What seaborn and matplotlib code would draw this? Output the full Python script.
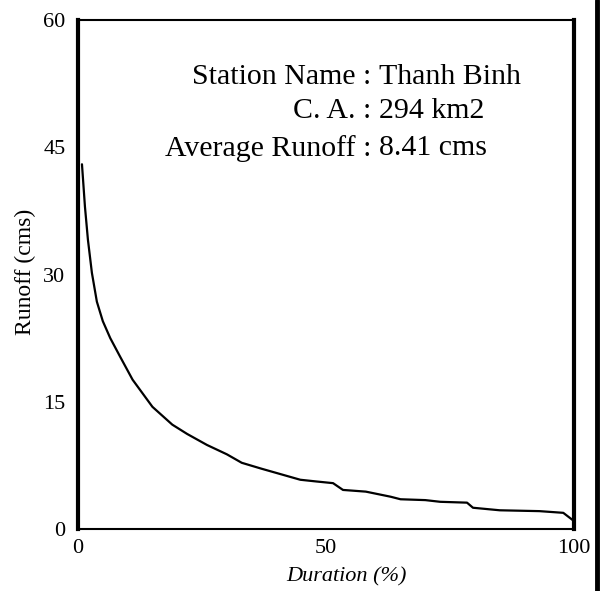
import matplotlib
matplotlib.use("Agg")
import matplotlib.pyplot as plt
import seaborn as sns
import pandas as pd
from matplotlib.lines import Line2D

duration = [0.8, 1.4, 2.0, 2.8, 3.8, 5.0, 6.5, 8.5, 11.0, 15.0, 19.0, 22.0, 26.0,
            30.0, 33.0, 37.0, 40.0, 44.8, 48.0, 51.4, 53.4, 58.0, 63.0, 65.0,
            70.0, 73.0, 78.4, 79.6, 85.0, 93.0, 97.8, 99.8]
runoff = [43.0, 38.0, 34.1, 30.2, 26.8, 24.5, 22.5, 20.3, 17.6, 14.4, 12.3, 11.2, 9.9,
          8.8, 7.8, 7.1, 6.6, 5.8, 5.6, 5.4, 4.6, 4.4, 3.8, 3.5,
          3.4, 3.2, 3.1, 2.5, 2.2, 2.1, 1.9, 1.0]
x_ticks = [0, 10, 20, 30, 40, 50, 60, 70, 80, 90, 100]
x_labels = ["0", "", "", "", "", "50", "", "", "", "", "100"]
y_ticks = [0, 15, 30, 45, 60]
info_left = ["Station Name :", "C. A. :", "Average Runoff :"]
info_right = ["Thanh Binh", "294 km2", "8.41 cms"]

sns.set_style("white")
plt.rcParams["font.family"] = ["Liberation Serif", "DejaVu Serif"]
plt.rcParams["text.color"] = "black"
plt.rcParams["axes.labelcolor"] = "black"

df = pd.DataFrame({"Duration": duration, "Runoff": runoff})

fig = plt.figure(figsize=(6.0, 5.91), dpi=100)
ax = fig.add_axes([0.13, 0.105, 0.827, 0.861])
sns.lineplot(data=df, x="Duration", y="Runoff", ax=ax, color="black", linewidth=1.6)

ax.set_xlim(0, 100)
ax.set_ylim(0, 60)
ax.set_xticks(x_ticks)
ax.set_xticklabels(x_labels, fontsize=16)
ax.set_yticks(y_ticks)
ax.set_yticklabels([str(v) for v in y_ticks], fontsize=16)
ax.tick_params(axis="x", direction="in", length=8, width=1.5, color="black", pad=7)
ax.tick_params(axis="y", length=0, pad=9)
ax.tick_params(axis="both", labelcolor="black")

for side, lw in [("left", 3.0), ("right", 3.0), ("top", 1.5), ("bottom", 1.5)]:
    ax.spines[side].set_visible(True)
    ax.spines[side].set_color("black")
    ax.spines[side].set_linewidth(lw)

ax.set_xlabel("Duration (%)", fontsize=16, style="italic")
ax.xaxis.set_label_coords(0.54, -0.075)
ax.set_ylabel("Runoff (cms)", fontsize=17)
ax.yaxis.set_label_coords(-0.085, 0.505)

ys = [0.888, 0.822, 0.748]
for t_l, t_r, yy in zip(info_left, info_right, ys):
    ax.text(0.607, yy, t_l + " ", transform=ax.transAxes, ha="right", va="center", fontsize=21.5)
    ax.text(0.607, yy, t_r, transform=ax.transAxes, ha="left", va="center", fontsize=21.5)

fig.add_artist(Line2D([0.995, 0.995], [0.0, 1.0], transform=fig.transFigure,
                      color="black", linewidth=3.5))

fig.savefig("out.png", dpi=100, facecolor="white")
